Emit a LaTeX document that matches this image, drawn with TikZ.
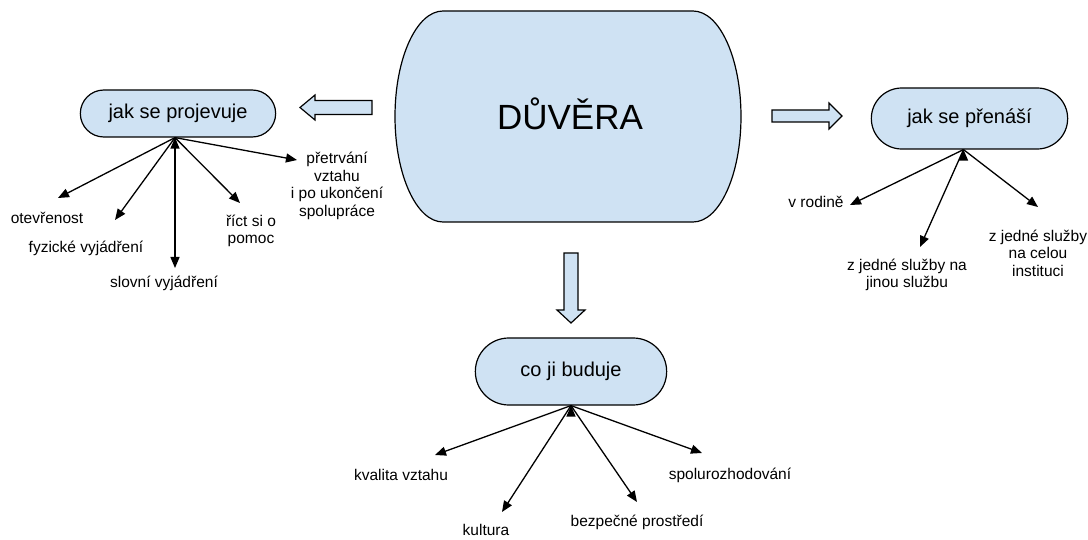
\documentclass[tikz,border=0pt]{standalone}
\usepackage{fontspec}
\setmainfont{Liberation Sans}
\usetikzlibrary{arrows.meta}
\usetikzlibrary{shapes.misc}
\definecolor{boxblue}{HTML}{CFE2F3}
\tikzset{topic/.style={rounded rectangle, draw, line width=1.2pt, fill=boxblue, font=\fontsize{20}{24}\selectfont}}
\tikzset{leaf/.style={align=center, inner sep=0pt, font=\fontsize{15.5}{17.5}\selectfont}}
\tikzset{branch/.style={-{Triangle[length=11pt, width=9pt]}, line width=1.3pt}}
\tikzset{blockarrow/.style={draw, line width=1.2pt, fill=boxblue, line join=miter}}

\begin{document}
\begin{tikzpicture}[x=1pt, y=-1pt]
            \useasboundingbox (0,0) rectangle (1088,540);
            % central box
            \draw[blockarrow] (443,11) -- (693,11)
                .. controls (719.5,11) and (741,58.2) .. (741,116.5)
                .. controls (741,174.8) and (719.5,222) .. (693,222) -- (443,222)
                .. controls (416.5,222) and (395,174.8) .. (395,116.5)
                .. controls (395,58.2) and (416.5,11) .. (443,11) -- cycle;
            \node[font=\fontsize{35}{42}\selectfont] (duvera) at (570,114) {DŮVĚRA};
            % block arrows
            \draw[blockarrow] (300,107.5) -- (315,95) -- (315,100.5) -- (372,100.5) -- (372,114.5) -- (315,114.5) -- (315,120) -- cycle;
            \draw[blockarrow] (842,116) -- (829,103) -- (829,110) -- (772,110) -- (772,122) -- (829,122) -- (829,129) -- cycle;
            \draw[blockarrow] (571,323) -- (557,310) -- (564,310) -- (564,253) -- (578,253) -- (578,310) -- (585,310) -- cycle;
            % topics
            \node[topic, minimum width=202pt, minimum height=47pt] (projevuje) at (178,113.5) {jak se projevuje};
            \node[topic, minimum width=203pt, minimum height=61pt] (prenasi) at (969.5,118.5) {jak se přenáší};
            \node[topic, minimum width=198pt, minimum height=67pt] (buduje) at (571,371.5) {co ji buduje};
            % left branch
            \node[leaf] (otevrenost) at (47,218) {otevřenost};
            \node[leaf] (fyzicke) at (86,248) {fyzické vyjádření};
            \node[leaf] (slovni) at (164,283) {slovní vyjádření};
            \node[leaf] (rict) at (251,231) {říct si o\\pomoc};
            \node[leaf] (pretrvani) at (337,186) {přetrvání\\vztahu\\i po ukončení\\spolupráce};
            \coordinate (t-otevrenost) at (58,198);
            \coordinate (t-fyzicke) at (115,220);
            \coordinate (t-slovni) at (175,268);
            \coordinate (t-rict) at (240,203);
            \coordinate (t-pretrvani) at (297,160);
            \draw[branch] ([xshift=-3pt]projevuje.south) edge (t-otevrenost)
                ([xshift=-3pt]projevuje.south) edge (t-fyzicke)
                ([xshift=-3pt]projevuje.south) edge (t-slovni)
                ([xshift=-3pt]projevuje.south) edge (t-rict)
                ([xshift=-3pt]projevuje.south) edge (t-pretrvani);
            % right branch
            \node[leaf] (rodina) at (816,202) {v rodině};
            \node[leaf] (jinou) at (907,275) {z jedné služby na\\jinou službu};
            \node[leaf] (instituce) at (1038,253) {z jedné služby\\na celou\\instituci};
            \coordinate (t-rodina) at (850,205);
            \coordinate (t-jinou) at (920,247);
            \coordinate (t-instituce) at (1038,207);
            \draw[branch] ([xshift=-6pt]prenasi.south) edge (t-rodina)
                ([xshift=-6pt]prenasi.south) edge (t-jinou)
                ([xshift=-6pt]prenasi.south) edge (t-instituce);
            % bottom branch
            \node[leaf] (kvalita) at (401,475) {kvalita vztahu};
            \node[leaf] (kultura) at (486,530) {kultura};
            \node[leaf] (bezpeci) at (637,522) {bezpečné prostředí};
            \node[leaf] (spolu) at (730,475) {spolurozhodování};
            \coordinate (t-kvalita) at (435,455);
            \coordinate (t-kultura) at (502,512);
            \coordinate (t-bezpeci) at (637,502);
            \coordinate (t-spolu) at (702,453);
            \draw[branch] (buduje.south) edge (t-kvalita)
                (buduje.south) edge (t-kultura)
                (buduje.south) edge (t-bezpeci)
                (buduje.south) edge (t-spolu);
\end{tikzpicture}
\end{document}
